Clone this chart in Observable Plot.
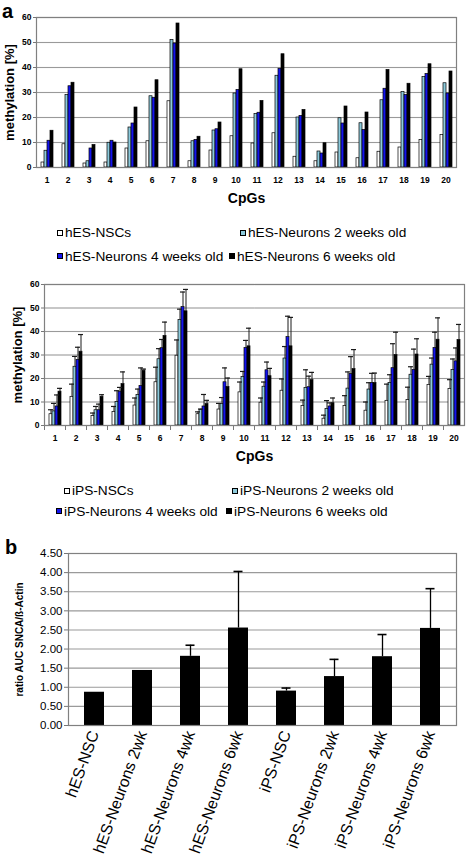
<!DOCTYPE html>
<html><head><meta charset="utf-8">
<script src="https://cdn.jsdelivr.net/npm/d3@7"></script>
<script src="https://cdn.jsdelivr.net/npm/@observablehq/plot@0.6"></script>
<style>
html,body{margin:0;padding:0;background:#fff;}
#root{position:relative;width:473px;height:864px;overflow:hidden;background:#fff;font-family:"Liberation Sans",Arial,Helvetica,sans-serif;}
#root > *{position:absolute;}
.panel{font-weight:bold;font-size:20px;line-height:1.12;color:#000;}
.leg{font-size:13.7px;white-space:nowrap;display:flex;align-items:center;height:16px;color:#000;}
.sw{display:inline-block;width:6px;height:6px;border:1px solid #000;margin-right:2px;box-sizing:border-box;}
</style></head><body><div id="root"></div>
<script>
// ---------- data ----------
const cpgs = [1,2,3,4,5,6,7,8,9,10,11,12,13,14,15,16,17,18,19,20];
const yTicksA = [0,10,20,30,40,50,60];

const seriesES = ["hES-NSCs","hES-Neurons 2 weeks old","hES-Neurons 4 weeks old","hES-Neurons 6 weeks old"];
const esNSC = [2,9.3,1.6,2,7.6,10.5,26.5,2.5,6.8,12.5,9.6,13.7,4.3,2.5,6,3.7,6.3,8,11,13];
const es2wk = [6.7,29,2.5,9.9,16,28.5,51,10.5,14.8,29.6,21.4,36.7,20,6.4,19.7,17.7,26.9,30.2,36.2,33.7];
const es4wk = [10.7,32.5,7.6,10.7,17.6,27.9,49.6,11,15.3,31,21.9,39.5,20.6,5.6,17.6,15,31.5,29,37.4,29.6];
const es6wk = [14.7,33.9,9,10,24,34.9,57.6,12.3,18,39.3,26.6,45.3,23,9.7,24.4,22,39,33.5,41.3,38.4];

const seriesIPS = ["iPS-NSCs","iPS-Neurons 2 weeks old","iPS-Neurons 4 weeks old","iPS-Neurons 6 weeks old"];
const ipsNSC    = [4.8,12.2,4,5.8,8.5,18.4,29.7,4.8,6.8,14.1,9.7,14.8,8.3,2.9,8.3,6.3,10.5,10.8,17.3,15.6];
const ipsNSCerr = [6.7,17.6,5.3,8.1,11.7,24.8,36.4,5.8,9.4,18.5,11.7,19.8,10.8,4.4,12.7,10,17.6,16.3,20.9,19.5];
const ips2wk    = [6,25,6.5,10,13,28.2,44.9,6.7,9.1,20.6,16.5,28.5,16,7,15.7,15.3,18.1,21.6,25.9,23.6];
const ips2wkErr = [9.4,29.4,8.1,14.8,15.5,32.7,49.5,7,11.9,23,18.5,33.6,23.7,10.6,22.8,18.2,21.6,25,28.7,28.3];
const ips4wk    = [8.1,27.9,6.5,14.4,16.8,32.9,50.4,8.1,18.4,33,23.5,37.6,16.3,8.1,21.9,18.1,24.4,23.7,33,27.3];
const ips4wkErr = [13,33.3,9.1,16.2,24.5,36.6,56.8,13.2,24.5,36.2,27,46.5,21,9.6,29.3,22.2,34.8,32.5,39.7,33];
const ips6wk    = [14.4,31.4,12.2,17.6,23.3,38.1,48.6,9.1,16.4,33.7,21,33.7,19.3,9.5,24,18.1,30,30.2,36.5,36.4];
const ips6wkErr = [15.8,38.7,13.1,22.8,24,44,57.9,10.7,20.2,41.4,24.3,46,22.6,11.7,32.3,22.3,39.7,36.9,45.8,43];

const seriesColors = ["#ffffff","#8ccadb","#1414ee","#000000"];

const samplesB = ["hES-NSC","hES-Neurons 2wk","hES-Neurons 4wk","hES-Neurons 6wk","iPS-NSC","iPS-Neurons 2wk","iPS-Neurons 4wk","iPS-Neurons 6wk"];
const ratioB   = [0.87,1.44,1.81,2.55,0.9,1.28,1.8,2.54];
const ratioErrB = [null,null,2.1,4.03,0.98,1.73,2.38,3.58];
const yTicksB = [0,0.5,1,1.5,2,2.5,3,3.5,4,4.5];

// ---------- build tables ----------
const esVals = [esNSC, es2wk, es4wk, es6wk];
const esRows = seriesES.flatMap((s, si) => cpgs.map((c, i) => ({cpg: c, series: s, value: esVals[si][i]})));
const ipsVals = [ipsNSC, ips2wk, ips4wk, ips6wk];
const ipsErrs = [ipsNSCerr, ips2wkErr, ips4wkErr, ips6wkErr];
const ipsRows = seriesIPS.flatMap((s, si) => cpgs.map((c, i) => ({cpg: c, series: s, value: ipsVals[si][i], err: ipsErrs[si][i]})));
const bRows = samplesB.map((s, i) => ({sample: s, value: ratioB[i], err: ratioErrB[i]}));
const bErrRows = bRows.filter(d => d.err != null);

const root = document.getElementById("root");
const FONT = "Liberation Sans, Arial, sans-serif";

function methylPlot({rows, series, height, mt, mb, mr, pad, errors, bottomTicks}) {
  const innerH = height - mt - mb;
  const marks = [
    Plot.gridY({ticks: yTicksA, stroke: "#9a9a9a", strokeOpacity: 1, strokeWidth: 1.1}),
    Plot.barY(rows, {fx: "cpg", x: "series", y: "value", fill: "series", stroke: "#000", strokeWidth: 0.7})
  ];
  if (errors) {
    marks.push(
      Plot.ruleX(rows, {fx: "cpg", x: "series", y1: "value", y2: "err", stroke: "#1a1a1a", strokeWidth: 1}),
      Plot.tickY(rows, {fx: "cpg", x: "series", y: "err", stroke: "#1a1a1a", strokeWidth: 1.2, insetLeft: -1, insetRight: -1})
    );
  }
  if (bottomTicks) {
    marks.push(Plot.frame({anchor: "left", stroke: "#777", insetTop: innerH, insetBottom: -4}));
  }
  marks.push(
    Plot.frame({facet: "super", stroke: "#808080", strokeWidth: 1.2}),
    Plot.axisY({ticks: yTicksA, tickSize: 3, tickPadding: 2, fontSize: 8.5, fontWeight: "bold", stroke: "#777", label: null}),
    Plot.axisY({ticks: [], label: "methylation [%]", labelAnchor: "center", labelArrow: "none", fontSize: 13, fontWeight: "bold"}),
    Plot.axisFx({anchor: "bottom", tickSize: 0, tickPadding: 9, fontSize: 8.5, fontWeight: "bold", label: null}),
    Plot.axisFx({anchor: "bottom", ticks: [], tickSize: 0, label: "CpGs", labelAnchor: "center", labelArrow: "none", labelOffset: 35, fontSize: 14, fontWeight: "bold"})
  );
  return Plot.plot({
    width: 473, height,
    marginLeft: 35, marginRight: mr, marginTop: mt, marginBottom: mb,
    style: {fontFamily: FONT, background: "transparent", color: "#000"},
    fx: {domain: cpgs, paddingInner: 0, paddingOuter: 0},
    x: {domain: series, paddingInner: 0, paddingOuter: pad, axis: null},
    y: {domain: [0, 60]},
    color: {domain: series, range: seriesColors},
    marks
  });
}

function place(el, left, top) {
  el.style.left = left + "px";
  el.style.top = top + "px";
  root.appendChild(el);
}

function label(text, left, top) {
  const d = document.createElement("div");
  d.className = "panel";
  d.textContent = text;
  place(d, left, top);
}

function legendItem(text, color, left, cy) {
  const d = document.createElement("div");
  d.className = "leg";
  const sw = document.createElement("span");
  sw.className = "sw";
  sw.style.background = color;
  d.appendChild(sw);
  d.appendChild(document.createTextNode(text));
  place(d, left, cy - 8);
}

// panel a, top chart (hES)
place(methylPlot({rows: esRows, series: seriesES, height: 210, mt: 17, mb: 43, mr: 17, pad: 0.8, errors: false, bottomTicks: false}), 0, 0);
// panel a, bottom chart (iPS)
place(methylPlot({rows: ipsRows, series: seriesIPS, height: 200, mt: 14, mb: 45, mr: 1, pad: 0.73, errors: true, bottomTicks: true}), 0, 270);

// legends
const legPosES = [[57, 232.7], [240, 232.7], [57, 256], [229, 256]];
seriesES.forEach((s, i) => legendItem(s, seriesColors[i], legPosES[i][0], legPosES[i][1]));
const legPosIPS = [[64, 490.7], [232, 490.7], [56, 511], [226, 511]];
seriesIPS.forEach((s, i) => legendItem(s, seriesColors[i], legPosIPS[i][0], legPosIPS[i][1]));

label("a", 2, 0);
label("b", 5, 536);

// panel b
const plotB = Plot.plot({
  width: 473, height: 319,
  marginLeft: 68, marginRight: 17, marginTop: 8, marginBottom: 139,
  style: {fontFamily: FONT, background: "transparent", color: "#000"},
  x: {domain: samplesB, paddingInner: 0.59, paddingOuter: 0.295},
  y: {domain: [0, 4.5]},
  marks: [
    Plot.gridY({ticks: yTicksB, stroke: "#9a9a9a", strokeOpacity: 1, strokeWidth: 1.1}),
    Plot.barY(bRows, {x: "sample", y: "value", fill: "#000"}),
    Plot.ruleX(bErrRows, {x: "sample", y1: "value", y2: "err", stroke: "#000", strokeWidth: 1.3}),
    Plot.tickY(bErrRows, {x: "sample", y: "err", stroke: "#000", strokeWidth: 1.6, insetLeft: 5.5, insetRight: 5.5}),
    Plot.frame({stroke: "#808080", strokeWidth: 1.2}),
    Plot.axisY({ticks: yTicksB, tickFormat: d3.format(".2f"), tickSize: 4, tickPadding: 2, fontSize: 11.5, stroke: "#777", label: null}),
    Plot.axisY({ticks: [], label: "ratio AUC SNCA/ß-Actin", labelAnchor: "center", labelArrow: "none", labelOffset: 53, fontSize: 10, fontWeight: "bold"}),
    Plot.axisX({tickRotate: -70, tickSize: 0, tickPadding: 6, fontSize: 16, label: null})
  ]
});
place(plotB, 0, 545);
</script></body></html>
